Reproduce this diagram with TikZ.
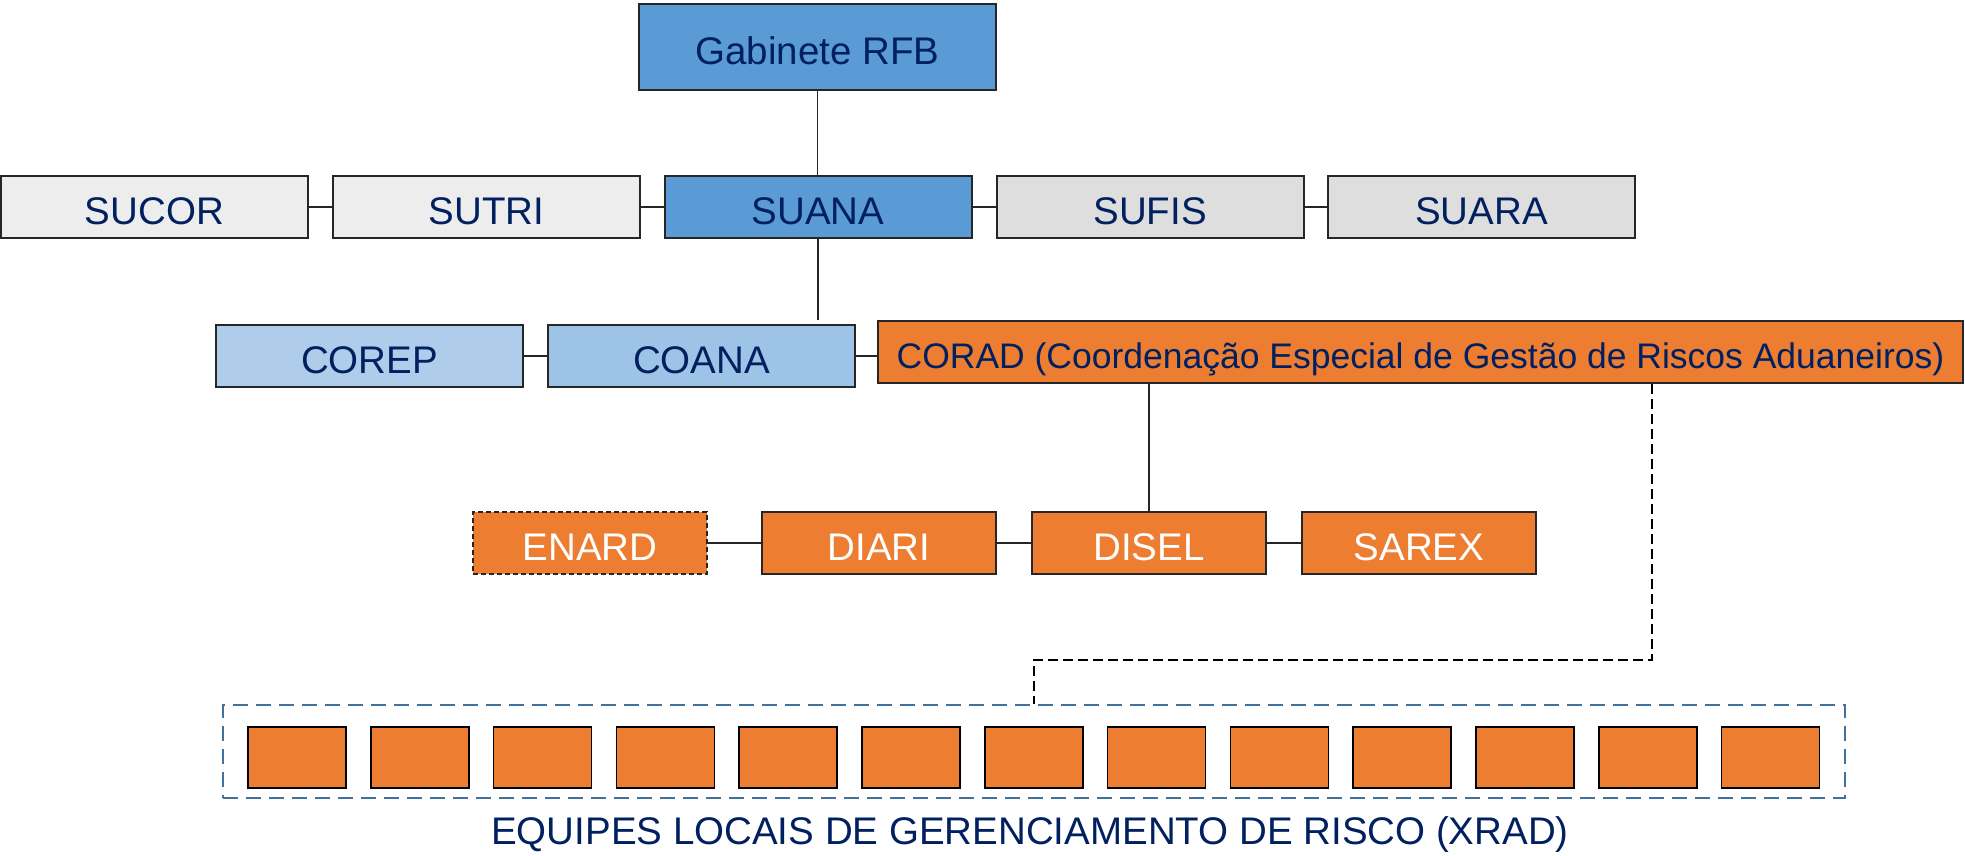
\documentclass[tikz,border=0pt]{standalone}
\usepackage{fontspec}
\setmainfont{Liberation Sans}
\definecolor{navy}{HTML}{002060}
\definecolor{blueA}{HTML}{5B9BD5}
\definecolor{grayA}{HTML}{EDEDED}
\definecolor{grayB}{HTML}{DEDEDE}
\definecolor{blueL}{HTML}{AFCDEA}
\definecolor{blueM}{HTML}{9DC3E6}
\definecolor{orangeA}{HTML}{ED7D31}
\definecolor{edgec}{HTML}{262626}
\definecolor{steel}{HTML}{41719C}
\begin{document}
\begin{tikzpicture}[x=1pt,y=-1pt,
  box/.style={draw=edgec, line width=2pt, inner sep=0pt, minimum height=62pt,
    font=\fontsize{38.5}{46}\selectfont, text=navy, text height=35.5pt, text depth=0pt},
  obox/.style={box, fill=orangeA, text=white, minimum width=234pt},
  sqbox/.style={draw=black, line width=1.5pt, fill=orangeA, minimum width=98pt, minimum height=61pt, inner sep=0pt},
  conn/.style={draw=edgec, line width=1.8pt},
  dconn/.style={draw=black, line width=1.6pt, dash pattern=on 10pt off 5pt},
]
\useasboundingbox (0,0) rectangle (1965,855);
% level 1
\node[box, fill=blueA, minimum width=357pt, minimum height=86pt] (gab) at (817.5,47) {Gabinete RFB};
% level 2
\node[box, fill=grayA, minimum width=307pt] (sucor) at (154.5,207) {SUCOR};
\node[box, fill=grayA, minimum width=307pt] (sutri) at (486.5,207) {SUTRI};
\node[box, fill=blueA, minimum width=307pt] (suana) at (818,207) {SUANA};
\node[box, fill=grayB, minimum width=307pt] (sufis) at (1150,207) {SUFIS};
\node[box, fill=grayB, minimum width=307pt] (suara) at (1481.5,207) {SUARA};
% level 3
\node[box, fill=blueL, minimum width=307pt] (corep) at (369.5,356) {COREP};
\node[box, fill=blueM, minimum width=307pt] (coana) at (701.5,356) {COANA};
\node[box, fill=orangeA, minimum width=1085pt, font=\fontsize{35.5}{42}\selectfont, text height=33.4pt] (corad) at (1420.5,352) {CORAD (Coordenação Especial de Gestão de Riscos Aduaneiros)};
% level 4
\node[obox, line width=2.3pt, dash pattern=on 5pt off 3pt] (enard) at (590,543) {ENARD};
\node[obox] (diari) at (879,543) {DIARI};
\node[obox] (disel) at (1149,543) {DISEL};
\node[obox] (sarex) at (1419,543) {SAREX};
% local teams
\node[draw=steel, line width=2.5pt, dash pattern=on 15pt off 8pt, minimum width=1622pt, minimum height=93pt, inner sep=0pt] (xrad) at (1034,751.5) {};
\foreach \i in {0,...,12} {
  \node[sqbox] (sq\i) at (297+122.8*\i,757.5) {};
}
\node[anchor=base, font=\fontsize{38.5}{46}\selectfont, text=navy, inner sep=0pt] (lbl) at (1030,844) {EQUIPES LOCAIS DE GERENCIAMENTO DE RISCO (XRAD)};
% connectors
\draw[conn] (gab.south) -- (gab.south |- suana.north);
\draw[conn] (sucor) -- (sutri);
\draw[conn] (sutri) -- (suana);
\draw[conn] (suana) -- (sufis);
\draw[conn] (sufis) -- (suara);
\draw[conn] (suana.south) -- (suana.south |- corad.north);
\draw[conn] (corep) -- (coana);
\draw[conn] (coana.east) -- (coana.east -| corad.west);
\draw[conn] (disel.north |- corad.south) -- (disel.north);
\draw[conn] (enard) -- (diari);
\draw[conn] (diari) -- (disel);
\draw[conn] (disel) -- (sarex);
\coordinate (dk) at (1652,660);
\draw[dconn] (corad.south -| dk) -- (dk) -- (dk -| xrad.north) -- (xrad.north);
\end{tikzpicture}
\end{document}
